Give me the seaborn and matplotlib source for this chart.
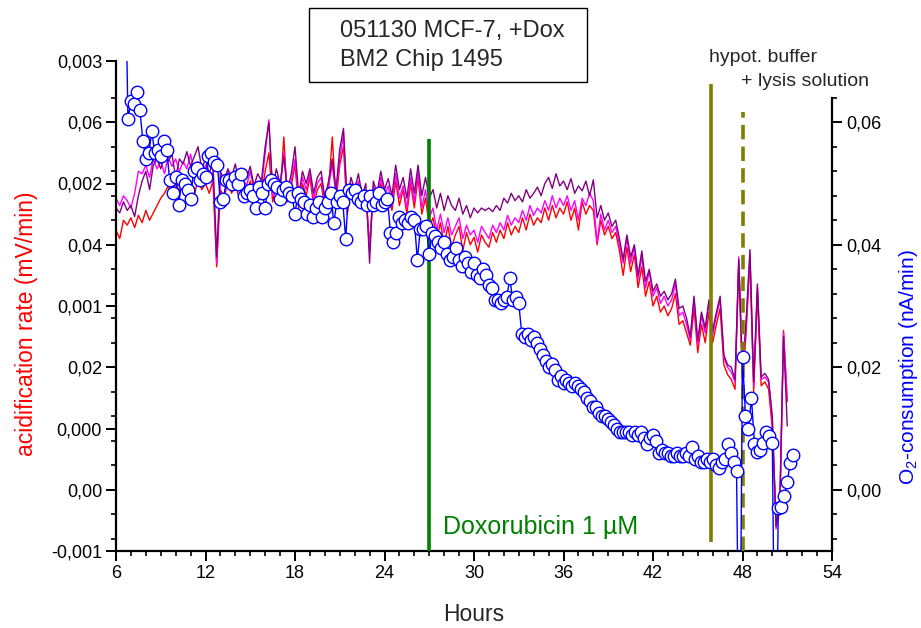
import numpy as np
import matplotlib
matplotlib.use("Agg")
import matplotlib.pyplot as plt
import matplotlib.patches as mpatches
from matplotlib.ticker import MultipleLocator, FixedLocator, FuncFormatter
import seaborn as sns

sns.set_theme(style="white")
plt.rcParams['font.family'] = ['Liberation Sans', 'DejaVu Sans']
plt.rcParams['mathtext.default'] = 'regular'

# ---------------- data (acidification rate, units of 1e-3 mV/min, every 0.25 h from 6 h) ----
acid_start, acid_step = 6.0, 0.25
acid_purple = [
    1.80, 1.76, 1.85, 1.78,  1.82, 1.73, 1.90, 2.02,  2.10, 1.95, 2.15, 2.20,
    2.12, 2.22, 2.18, 2.24,  2.05, 2.20, 2.16, 2.26,  2.14, 2.22, 2.30, 2.12,
    2.20, 2.08, 2.18, 1.40,  2.10, 2.02, 2.12, 2.05,  2.16, 2.00, 2.10, 2.04,
    2.14, 1.98, 2.08, 2.02,  2.30, 2.50, 1.95, 2.12,  2.00, 2.22, 1.94, 2.08,
    2.30, 1.90, 2.10, 2.00,  2.12, 1.92, 2.05, 2.10,  1.88, 2.02, 2.20, 1.95,
    2.28, 2.45, 1.85, 2.05,  1.95, 2.08, 1.90, 2.00,  1.35, 2.02, 1.92, 2.10,
    1.95, 2.04, 1.90, 2.15,  1.95, 2.05, 1.88, 2.12,  1.92, 2.15, 1.90, 2.05,
    1.88, 1.95, 1.80, 1.92,  1.78, 1.90, 1.82, 1.78,  1.88, 1.75, 1.82, 1.72,
    1.80, 1.76, 1.80, 1.78,  1.80, 1.77, 1.82, 1.78,  1.88, 1.84, 1.92, 1.86,
    1.90, 1.85, 1.95, 1.88,  1.92, 1.97, 1.90, 2.00,  2.05, 1.96, 2.08, 1.98,
    2.02, 1.95, 2.04, 1.92,  1.98, 1.94, 2.02, 1.90,  2.03, 1.72, 1.82, 1.70,
    1.76, 1.65, 1.70, 1.55,  1.38, 1.58, 1.40, 1.50,  1.25, 1.45, 1.20, 1.30,
    1.12, 1.18, 1.08, 1.12,  1.05, 1.10, 1.22, 0.98,  1.00, 0.90, 0.75, 1.08,
    0.72, 0.95, 0.82, 1.05,  0.80, 0.95, 1.08, 0.60,  0.52, 0.50, 0.40, 1.38,
    0.45, 0.90, 1.46, 0.38,  1.18, 0.42, 0.45, 0.40,  0.10, -0.80, -0.60, 0.75,
    0.02,
]
acid_magenta = [
    1.88, 1.82, 1.90, 1.86,  1.80, 1.92, 2.10, 2.08,  2.15, 2.05, 2.20, 2.12,
    2.18, 2.08, 2.22, 2.14,  2.20, 2.10, 2.18, 2.12,  2.24, 2.08, 2.18, 2.05,
    2.15, 2.02, 2.10, 1.35,  2.05, 1.98, 2.10, 2.00,  2.08, 1.95, 2.04, 1.98,
    2.10, 1.95, 2.02, 1.96,  2.25, 2.52, 1.90, 2.05,  1.95, 2.25, 1.90, 2.02,
    2.20, 1.85, 2.05, 1.95,  2.08, 1.88, 2.00, 2.05,  1.85, 1.98, 2.15, 1.90,
    2.20, 2.40, 1.80, 2.00,  1.90, 2.02, 1.85, 1.95,  1.45, 1.98, 1.85, 2.05,
    1.90, 1.98, 1.82, 2.08,  1.88, 1.98, 1.80, 2.05,  1.85, 2.10, 1.80, 1.95,
    1.72, 1.80, 1.62, 1.75,  1.60, 1.72, 1.58, 1.65,  1.72, 1.55, 1.66, 1.58,
    1.62, 1.52, 1.65, 1.60,  1.55, 1.66, 1.60, 1.68,  1.62, 1.74, 1.66, 1.72,
    1.68, 1.78, 1.70, 1.82,  1.74, 1.80, 1.76, 1.86,  1.78, 1.90, 1.80, 1.88,
    1.82, 1.90, 1.78, 1.86,  1.70, 1.88, 1.82, 1.92,  1.86, 1.52, 1.75, 1.62,
    1.70, 1.60, 1.65, 1.50,  1.35, 1.55, 1.35, 1.48,  1.22, 1.40, 1.15, 1.28,
    1.08, 1.15, 1.02, 1.08,  1.00, 1.05, 1.18, 0.92,  0.95, 0.85, 0.72, 1.05,
    0.68, 0.92, 0.78, 1.02,  0.76, 0.92, 1.05, 0.58,  0.50, 0.46, 0.38, 1.40,
    0.42, 0.85, 1.42, 0.35,  1.15, 0.40, 0.42, 0.38,  0.05, -0.82, -0.65, 0.78,
    0.23,
]
acid_red = [
    1.62, 1.55, 1.70, 1.66,  1.72, 1.64, 1.74, 1.68,  1.78, 1.70, 1.76, 1.82,
    1.88, 1.92, 1.98, 1.90,  2.00, 1.94, 2.02, 1.92,  1.98, 1.90, 2.04, 1.95,
    2.00, 1.92, 2.02, 1.32,  1.95, 1.88, 2.02, 1.92,  2.00, 1.88, 1.98, 1.92,
    2.02, 1.88, 1.95, 1.90,  2.10, 2.25, 1.85, 2.00,  1.90, 2.38, 1.85, 1.98,
    2.15, 1.80, 2.00, 1.90,  2.05, 1.82, 1.95, 2.00,  1.80, 1.95, 2.38, 1.85,
    2.15, 2.30, 1.75, 1.95,  1.85, 1.98, 1.80, 1.90,  1.50, 1.92, 1.80, 2.00,
    1.85, 1.92, 1.78, 2.02,  1.82, 1.95, 1.75, 2.00,  1.80, 2.05, 1.75, 1.88,
    1.65, 1.72, 1.55, 1.68,  1.50, 1.65, 1.48, 1.58,  1.65, 1.45, 1.60, 1.50,
    1.56, 1.44, 1.58, 1.52,  1.48, 1.60, 1.52, 1.62,  1.55, 1.68, 1.58, 1.65,
    1.60, 1.72, 1.62, 1.75,  1.66, 1.72, 1.68, 1.80,  1.70, 1.82, 1.72, 1.80,
    1.75, 1.85, 1.70, 1.80,  1.62, 1.85, 1.75, 1.82,  1.78, 1.50, 1.70, 1.58,
    1.65, 1.55, 1.60, 1.45,  1.25, 1.48, 1.28, 1.42,  1.15, 1.32, 1.08, 1.20,
    1.00, 1.08, 0.95, 1.00,  0.92, 0.98, 1.10, 0.85,  0.88, 0.78, 0.68, 0.98,
    0.62, 0.85, 0.70, 0.95,  0.70, 0.85, 0.98, 0.52,  0.44, 0.40, 0.32, 1.35,
    0.36, 0.80, 1.38, 0.30,  1.10, 0.35, 0.38, 0.32,  0.00, -0.75, -0.70, 0.80,
    0.22,
]

# ---------------- data (O2 consumption, units of 1e-3 nA/min, every 0.2 h from 6.6 h) ----
o2_start, o2_step = 6.6, 0.2
o2_values = [
    90.0, 60.5, 63.5, 63.0, 65.0,   62.0, 57.0, 54.0, 55.0, 58.5,
    55.0, 55.5, 54.5, 57.0, 55.5,   50.5, 48.5, 51.0, 46.5, 50.5,
    50.0, 49.0, 47.5, 52.0, 52.5,   50.5, 51.5, 51.0, 54.5, 55.0,
    53.5, 53.0, 47.0, 47.5, 50.5,   50.5, 50.0, 51.0, 50.0, 51.5,
    48.0, 48.5, 49.0, 48.0, 46.0,   49.5, 48.5, 46.0, 50.0, 50.5,
    50.0, 49.5, 47.5, 49.0, 49.5,   48.5, 48.0, 45.0, 48.5, 47.5,
    47.0, 45.0, 46.5, 44.5, 46.0,   47.0, 44.5, 46.0, 47.0, 48.5,
    43.5, 47.0, 48.0, 47.0, 41.0,   49.0, 48.5, 49.0, 47.5, 47.0,
    48.0, 46.5, 48.0, 46.5, 47.0,   48.5, 46.5, 47.0, 47.5, 42.0,
    40.5, 42.0, 44.5, 43.5, 44.0,   43.5, 44.5, 44.0, 37.5, 42.5,
    42.5, 43.0, 38.5, 42.0, 41.5,   40.5, 39.5, 40.5, 38.5, 37.5,
    38.0, 39.5, 37.5, 36.5, 38.0,   37.0, 35.5, 37.0, 35.0, 34.5,
    36.0, 35.0, 33.5, 33.0, 31.0,   31.0, 30.5, 31.0, 31.5, 34.5,
    31.0, 31.5, 30.5, 25.5, 25.0,   25.5, 24.5, 25.0, 24.0, 23.0,
    22.0, 21.0, 20.0, 20.5, 19.5,   18.0, 18.5, 17.5, 18.0, 17.5,
    17.0, 17.5, 17.0, 16.5, 16.0,   15.0, 14.5, 13.5, 13.5, 12.5,
    12.0, 12.0, 11.5, 11.0, 10.5,   10.0, 9.5, 9.5, 9.5, 9.5,
    9.0, 9.5, 9.0, 9.5, 8.5,        7.5, 8.5, 9.0, 8.0, 6.0,
    6.5, 6.0, 6.0, 5.5, 5.5,        6.0, 5.5, 5.5, 6.0, 5.5,
    7.0, 5.0, 5.5, 4.5, 4.5,        5.0, 4.5, 5.0, 4.0, 3.5,
    4.5, 5.0, 7.5, 6.0, 4.5,        3.1, -40.0, 21.7, 12.0, 10.0,
    15.0, 7.5, 6.2, 6.5, 7.7,       9.5, 8.7, 7.7, -40.0, -2.9,
    -2.8, -1.1, 1.3, 4.4, 5.7,
]

acid_ticks = [-0.001, 0.000, 0.001, 0.002, 0.003]
o2_ticks = [0.00, 0.02, 0.04, 0.06]
x_ticks = [6, 12, 18, 24, 30, 36, 42, 48, 54]

treatments = [
    dict(h=27.0, y0=-0.001, y1=0.00236, color="#008000", ls="-"),
    dict(h=45.9, y0=-0.00093, y1=0.00281, color="#808000", ls="-"),
    dict(h=48.05, y0=-0.001, y1=0.00258, color="#808000", ls=(0, (4, 2))),
]

# ---------------- figure ----------------
W, H = 921, 628
L, R, T, B = 116, 832, 61, 551
fig = plt.figure(figsize=(W / 100, H / 100), dpi=100)
ax = fig.add_axes([L / W, 1 - B / H, (R - L) / W, (B - T) / H])
ax.set_facecolor("none")

acid_h = acid_start + acid_step * np.arange(len(acid_red))
o2_h = o2_start + o2_step * np.arange(len(o2_values))

for vals, col in [(acid_red, "#FF0000"), (acid_magenta, "#FF00FF"), (acid_purple, "#800080")]:
    sns.lineplot(x=acid_h, y=np.array(vals) * 1e-3, ax=ax, color=col, lw=1.0,
                 estimator=None, sort=False, legend=False)

for t in treatments:
    ax.plot([t["h"], t["h"]], [t["y0"], t["y1"]], color=t["color"], lw=2.6,
            ls=t["ls"], solid_capstyle="butt", zorder=3)

ax.set_xlim(6, 54)
ax.set_ylim(-0.001, 0.003)
ax.xaxis.set_major_locator(FixedLocator(x_ticks))
ax.xaxis.set_minor_locator(MultipleLocator(1))
ax.yaxis.set_major_locator(FixedLocator(acid_ticks))
ax.yaxis.set_minor_locator(MultipleLocator(0.0005))
ax.yaxis.set_major_formatter(FuncFormatter(lambda v, p: f"{v:.3f}".replace(".", ",").replace("-0,000", "0,000")))
ax.xaxis.set_major_formatter(FuncFormatter(lambda v, p: f"{int(round(v))}"))

for s in ["top", "right"]:
    ax.spines[s].set_visible(False)
for s in ["left", "bottom"]:
    ax.spines[s].set_linewidth(1.6)
    ax.spines[s].set_color("black")
ax.tick_params(axis="both", which="major", direction="out", length=7, width=1.4,
               labelsize=13, colors="black", pad=3, left=True, bottom=True)
ax.tick_params(axis="both", which="minor", direction="out", length=3.8, width=1.2,
               colors="black", left=True, bottom=True)
ax.set_xlabel("Hours", fontsize=16.5, labelpad=15)
ax.set_ylabel("acidification rate (mV/min)", fontsize=16.5, color="#FF0000")
ax.yaxis.set_label_coords((38 - L) / (R - L), 0.463)

# O2 axis
ax2 = ax.twinx()
sns.lineplot(x=o2_h, y=np.array(o2_values) * 1e-3, ax=ax2, color="#0000FF", lw=1.0,
             estimator=None, sort=False, legend=False)
ln = ax2.lines[-1]
ln.set_marker("o")
ln.set_markersize(9.0)
ln.set_markerfacecolor("white")
ln.set_markeredgecolor("#0000FF")
ln.set_markeredgewidth(1.0)
ax2.set_ylim(-0.01, 0.07)
ax2.yaxis.set_major_locator(FixedLocator(o2_ticks))
ax2.yaxis.set_minor_locator(FixedLocator([-0.008 + 0.004 * i for i in range(19)]))
ax2.yaxis.set_major_formatter(FuncFormatter(lambda v, p: f"{v:.2f}".replace(".", ",").replace("-0,00", "0,00")))
for s in ["top", "left", "bottom"]:
    ax2.spines[s].set_visible(False)
ax2.spines["right"].set_linewidth(1.6)
ax2.spines["right"].set_color("black")
ax2.spines["right"].set_bounds(-0.01, 0.064)
ax2.tick_params(axis="y", which="major", direction="out", length=7, width=1.4,
                labelsize=13, colors="black", pad=3, left=True, right=True,
                labelleft=True, labelright=True)
ax2.tick_params(axis="y", which="minor", direction="out", length=3.8, width=1.2,
                colors="black", left=True, right=True)
ax2.set_ylabel("O$_2$-consumption (nA/min)", fontsize=15, color="#0000FF")
ax2.yaxis.set_label_position("right")
ax2.yaxis.set_label_coords((897 - L) / (R - L), 0.3755)

# annotations
fig.add_artist(mpatches.Rectangle((309 / W, 1 - 82 / H), (587 - 309) / W, 74 / H,
                                  transform=fig.transFigure, fill=False, ec="black", lw=1.0))
fig.text(340 / W, 1 - 31 / H, "051130 MCF-7, +Dox", fontsize=17, va="center", ha="left")
fig.text(340 / W, 1 - 60 / H, "BM2 Chip 1495", fontsize=17, va="center", ha="left")
fig.text(709 / W, 1 - 58 / H, "hypot. buffer", fontsize=14, va="center", ha="left")
fig.text(741 / W, 1 - 82 / H, "+ lysis solution", fontsize=14, va="center", ha="left")
fig.text(443 / W, 1 - 527 / H, "Doxorubicin 1 µM", fontsize=18, va="center", ha="left",
         color="#008000")

fig.savefig("out.png", dpi=100)
